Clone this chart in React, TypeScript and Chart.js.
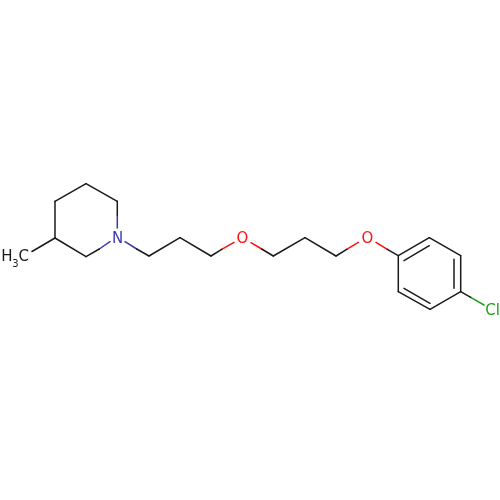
// Skeletal formula of 1-[3-[3-(4-chlorophenoxy)propoxy]propyl]-3-methylpiperidine,
// drawn as one scatter dataset per bond segment on a 0-500 linear plane.

import { useEffect, useRef } from 'react';
import { Chart, registerables } from 'chart.js';
import type { Plugin } from 'chart.js';

Chart.register(...registerables);

type Segment = [number, number, number, number];

const COLORS = { bond: '#1a1a1a', n: '#3a3ab0', o: '#ff0d0d', cl: '#1fa01f' };

const blackBonds: Segment[] = [
  [55, 238, 32, 251.5],
  [55, 238, 55, 201.3],
  [55, 201.3, 86, 183.7],
  [86, 183.7, 117.3, 201.3],
  [117.3, 201.3, 117.3, 215],
  [55, 238, 86, 256.7],
  [86, 256.7, 99.3, 249],
  [136.7, 249, 149, 256],
  [149, 256, 180, 237.7],
  [180, 237.7, 211, 256],
  [211, 256, 221.7, 249.3],
  [261.7, 249, 273.3, 256],
  [273.3, 256, 305, 237.7],
  [305, 237.7, 336, 256],
  [336, 256, 346.7, 249.3],
  [387.3, 249.3, 398.3, 255.7],
  [398.3, 255.7, 429.3, 237.7],
  [429.3, 237.7, 460.7, 255.7],
  [460.7, 255.7, 460.7, 291.7],
  [460.7, 291.7, 430, 309.3],
  [430, 309.3, 398.3, 291.7],
  [398.3, 291.7, 398.3, 255.7],
  [404, 260.7, 429.3, 245.7],
  [454, 259.3, 454, 288.3],
  [404, 288.3, 430, 303.3],
  [460.7, 291.7, 470.7, 297.3],
];

const nitrogenBonds: Segment[] = [
  [117.3, 215, 117.3, 228],
  [99.3, 249, 110, 241.7],
  [125, 241.7, 136.7, 249],
];

const oxygenBonds: Segment[] = [
  [221.7, 249.3, 234, 242.3],
  [251, 242.7, 261.7, 249],
  [346.7, 249.3, 358.3, 242.3],
  [376, 242.3, 387.3, 249.3],
];

const chlorineBonds: Segment[] = [[470.7, 297.3, 484, 305]];

const atomLabels = [
  { text: 'N', x: 117.5, y: 239, color: COLORS.n, size: 15 },
  { text: 'O', x: 242.5, y: 239.3, color: COLORS.o, size: 15 },
  { text: 'O', x: 367.5, y: 239.3, color: COLORS.o, size: 15 },
  { text: 'Cl', x: 492.5, y: 311.3, color: COLORS.cl, size: 15 },
  { text: 'H', x: 6.8, y: 257.5, color: COLORS.bond, size: 15 },
  { text: '3', x: 15.5, y: 264, color: COLORS.bond, size: 10 },
  { text: 'C', x: 23.8, y: 257.5, color: COLORS.bond, size: 15 },
];

// Atom symbols sit on the same scales as the bonds.
const labelPlugin: Plugin<'scatter'> = {
  id: 'atomLabels',
  afterDatasetsDraw(chart) {
    const { ctx, scales } = chart;
    ctx.save();
    ctx.textAlign = 'center';
    ctx.textBaseline = 'middle';
    for (const label of atomLabels) {
      ctx.font = label.size + 'px "DejaVu Sans"';
      ctx.fillStyle = label.color;
      ctx.fillText(label.text, scales.x.getPixelForValue(label.x), scales.y.getPixelForValue(label.y));
    }
    ctx.restore();
  },
};

function toDatasets(segments: Segment[], color: string) {
  return segments.map(([x1, y1, x2, y2]) => ({
    data: [
      { x: x1, y: y1 },
      { x: x2, y: y2 },
    ],
    showLine: true,
    borderColor: color,
    borderWidth: 1.5,
    borderCapStyle: 'round' as const,
    pointRadius: 0,
    fill: false,
    tension: 0,
  }));
}

export default function App() {
  const canvasRef = useRef<HTMLCanvasElement>(null);

  useEffect(() => {
    const canvas = canvasRef.current;
    if (!canvas) return;

    const chart = new Chart(canvas, {
      type: 'scatter',
      data: {
        datasets: [
          ...toDatasets(blackBonds, COLORS.bond),
          ...toDatasets(nitrogenBonds, COLORS.n),
          ...toDatasets(oxygenBonds, COLORS.o),
          ...toDatasets(chlorineBonds, COLORS.cl),
        ],
      },
      options: {
        responsive: false,
        animation: false,
        layout: { padding: 0 },
        plugins: { legend: { display: false }, tooltip: { enabled: false } },
        scales: {
          x: { type: 'linear', display: false, min: 0, max: 500 },
          y: { type: 'linear', display: false, min: 0, max: 500, reverse: true },
        },
      },
      plugins: [labelPlugin],
    });

    return () => chart.destroy();
  }, []);

  return (
    <div style={{ position: 'absolute', left: 0, top: 0, width: 500, height: 500, background: '#fff' }}>
      <canvas ref={canvasRef} width={500} height={500} style={{ display: 'block' }} />
    </div>
  );
}
